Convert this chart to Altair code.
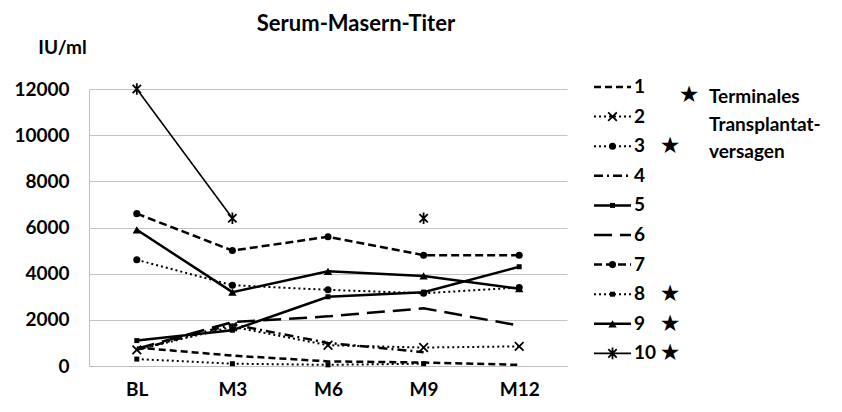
import altair as alt
import pandas as pd

# ---------------- data ----------------
categories = ["BL", "M3", "M6", "M9", "M12"]
series_names = ["1", "2", "3", "4", "5", "6", "7", "8", "9", "10"]
s1 = [800, 450, 200, 150, 50]
s2 = [700, 1700, 900, 800, 850]
s3 = [4600, 3500, 3300, 3150, 3400]
s4 = [700, 1800, 1000, 600, None]
s5 = [1100, 1550, 3000, 3200, 4300]
s6 = [750, 1900, 2150, 2500, 1750]
s7 = [6600, 5000, 5600, 4800, 4800]
s8 = [300, 100, 50, 100, None]
s9 = [5900, 3200, 4100, 3900, 3350]
s10 = [12000, 6400, None, 6400, None]
series_values = [s1, s2, s3, s4, s5, s6, s7, s8, s9, s10]
terminal = ["3", "8", "9", "10"]
y_ticks = [0, 2000, 4000, 6000, 8000, 10000, 12000]
title_text = "Serum-Masern-Titer"
y_title = "IU/ml"
note_lines = ["Terminales", "Transplantat-", "versagen"]

# ---------------- styles ----------------
FONT = "Lato"
X_PATH = "M-1,-1L1,1M-1,1L1,-1"
AST_PATH = "M-1,-1L1,1M-1,1L1,-1M0,-1.4L0,1.4"
styles = {
    "1": dict(dash=[7, 4], width=2.5, shape=None),
    "2": dict(dash=[2, 3], width=2, shape=X_PATH, filled=False, size=75),
    "3": dict(dash=[2, 3], width=2, shape="circle", filled=True, size=50),
    "4": dict(dash=[9, 4, 2, 4], width=2.5, shape=None),
    "5": dict(dash=None, width=2.5, shape="square", filled=True, size=25),
    "6": dict(dash=[18, 8], width=2.5, shape=None),
    "7": dict(dash=[8, 4], width=2.5, shape="circle", filled=True, size=50),
    "8": dict(dash=[2, 3], width=2, shape="square", filled=True, size=25),
    "9": dict(dash=None, width=2.5, shape="triangle-up", filled=True, size=70),
    "10": dict(dash=None, width=1.6, shape=AST_PATH, filled=False, size=70),
}

W, H = 478, 277

x_enc = alt.X(
    "t:N", sort=categories,
    scale=alt.Scale(domain=categories, padding=0.5),
    axis=alt.Axis(title=None, labelAngle=0, labelFont=FONT, labelFontSize=19,
                  labelFontWeight="bold", labelColor="black", ticks=False,
                  domainColor="#bfbfbf", labelPadding=14, grid=False),
)
y_enc = alt.Y(
    "v:Q", scale=alt.Scale(domain=[0, 12000]),
    axis=alt.Axis(values=y_ticks, format="d", title=y_title, titleAngle=0,
                  titleX=-27, titleY=-42, titleAlign="center", titleBaseline="middle",
                  titleFont=FONT, titleFontSize=19, titleFontWeight="bold",
                  titleColor="black", grid=True, gridColor="#c4c4c4",
                  domainColor="#bfbfbf", ticks=False, labelPadding=20,
                  labelFont=FONT, labelFontSize=19, labelFontWeight="bold",
                  labelColor="black"),
)


def mark_kwargs(st):
    kw = dict(color="black", strokeWidth=st["width"])
    if st["dash"] is not None:
        kw["strokeDash"] = st["dash"]
    return kw


def point_kwargs(st):
    kw = dict(shape=st["shape"], filled=st["filled"], size=st["size"],
              color="black", opacity=1)
    if not st["filled"]:
        kw["strokeWidth"] = 1.8
    return kw


layers = []
for name, vals in zip(series_names, series_values):
    rows = []
    seg = 0
    for t, v in zip(categories, vals):
        if v is None:
            seg += 1
            continue
        rows.append(dict(t=t, v=v, seg=seg))
    df = pd.DataFrame(rows)
    st = styles[name]
    layers.append(
        alt.Chart(df).mark_line(**mark_kwargs(st)).encode(x=x_enc, y=y_enc, detail="seg:N")
    )
    if st["shape"] is not None:
        layers.append(
            alt.Chart(df).mark_point(**point_kwargs(st)).encode(x=x_enc, y=y_enc)
        )

main = alt.layer(*layers).properties(
    width=W, height=H,
    title=alt.Title(title_text, font=FONT, fontSize=22, fontWeight="bold",
                    color="black", dx=28, anchor="middle", offset=2),
)

# ---------------- custom legend ----------------
LW = 250
STEP = 29.6
STAR_SIZE = 23
lx = alt.Scale(domain=[0, LW])
ly = alt.Scale(domain=[0, H], reverse=True)
leg_layers = []
leg_rows = []
for i, name in enumerate(series_names):
    y = i * STEP - 2
    leg_rows.append(dict(name=name, y=y, x0=27, x1=64, xm=45.5, xl=67, xs=103))
    st = styles[name]
    d1 = pd.DataFrame([leg_rows[-1]])
    leg_layers.append(
        alt.Chart(d1).mark_rule(**mark_kwargs(st)).encode(
            x=alt.X("x0:Q", scale=lx, axis=None), x2="x1:Q",
            y=alt.Y("y:Q", scale=ly, axis=None))
    )
    if st["shape"] is not None:
        leg_layers.append(
            alt.Chart(d1).mark_point(**point_kwargs(st)).encode(
                x=alt.X("xm:Q", scale=lx, axis=None),
                y=alt.Y("y:Q", scale=ly, axis=None))
        )
leg_df = pd.DataFrame(leg_rows)
leg_layers.append(
    alt.Chart(leg_df).mark_text(align="left", baseline="middle", font=FONT,
                                fontSize=19, fontWeight="bold", color="black").encode(
        x=alt.X("xl:Q", scale=lx, axis=None),
        y=alt.Y("y:Q", scale=ly, axis=None), text="name:N")
)
leg_layers.append(
    alt.Chart(leg_df[leg_df["name"].isin(terminal)]).mark_text(
        text="★", align="center", baseline="middle", font="DejaVu Sans",
        fontSize=STAR_SIZE, color="black").encode(
        x=alt.X("xs:Q", scale=lx, axis=None),
        y=alt.Y("y:Q", scale=ly, axis=None))
)
note_df = pd.DataFrame(dict(txt=note_lines, x=[142] * 3, y=[8, 36, 63]))
leg_layers.append(
    alt.Chart(note_df).mark_text(align="left", baseline="middle", font=FONT,
                                 fontSize=19, fontWeight="bold", color="black").encode(
        x=alt.X("x:Q", scale=lx, axis=None),
        y=alt.Y("y:Q", scale=ly, axis=None), text="txt:N")
)
star_df = pd.DataFrame(dict(x=[122], y=[6]))
leg_layers.append(
    alt.Chart(star_df).mark_text(text="★", align="center", baseline="middle",
                                 font="DejaVu Sans", fontSize=STAR_SIZE, color="black").encode(
        x=alt.X("x:Q", scale=lx, axis=None),
        y=alt.Y("y:Q", scale=ly, axis=None))
)
legend = alt.layer(*leg_layers).properties(width=LW, height=H)

chart = alt.hconcat(main, legend, spacing=0, bounds="flush").properties(
    padding={"left": 5, "top": 5, "right": 0, "bottom": 0}
).configure_view(stroke=None)

chart.save("out.html", embed_options={"renderer": "svg", "actions": False})
